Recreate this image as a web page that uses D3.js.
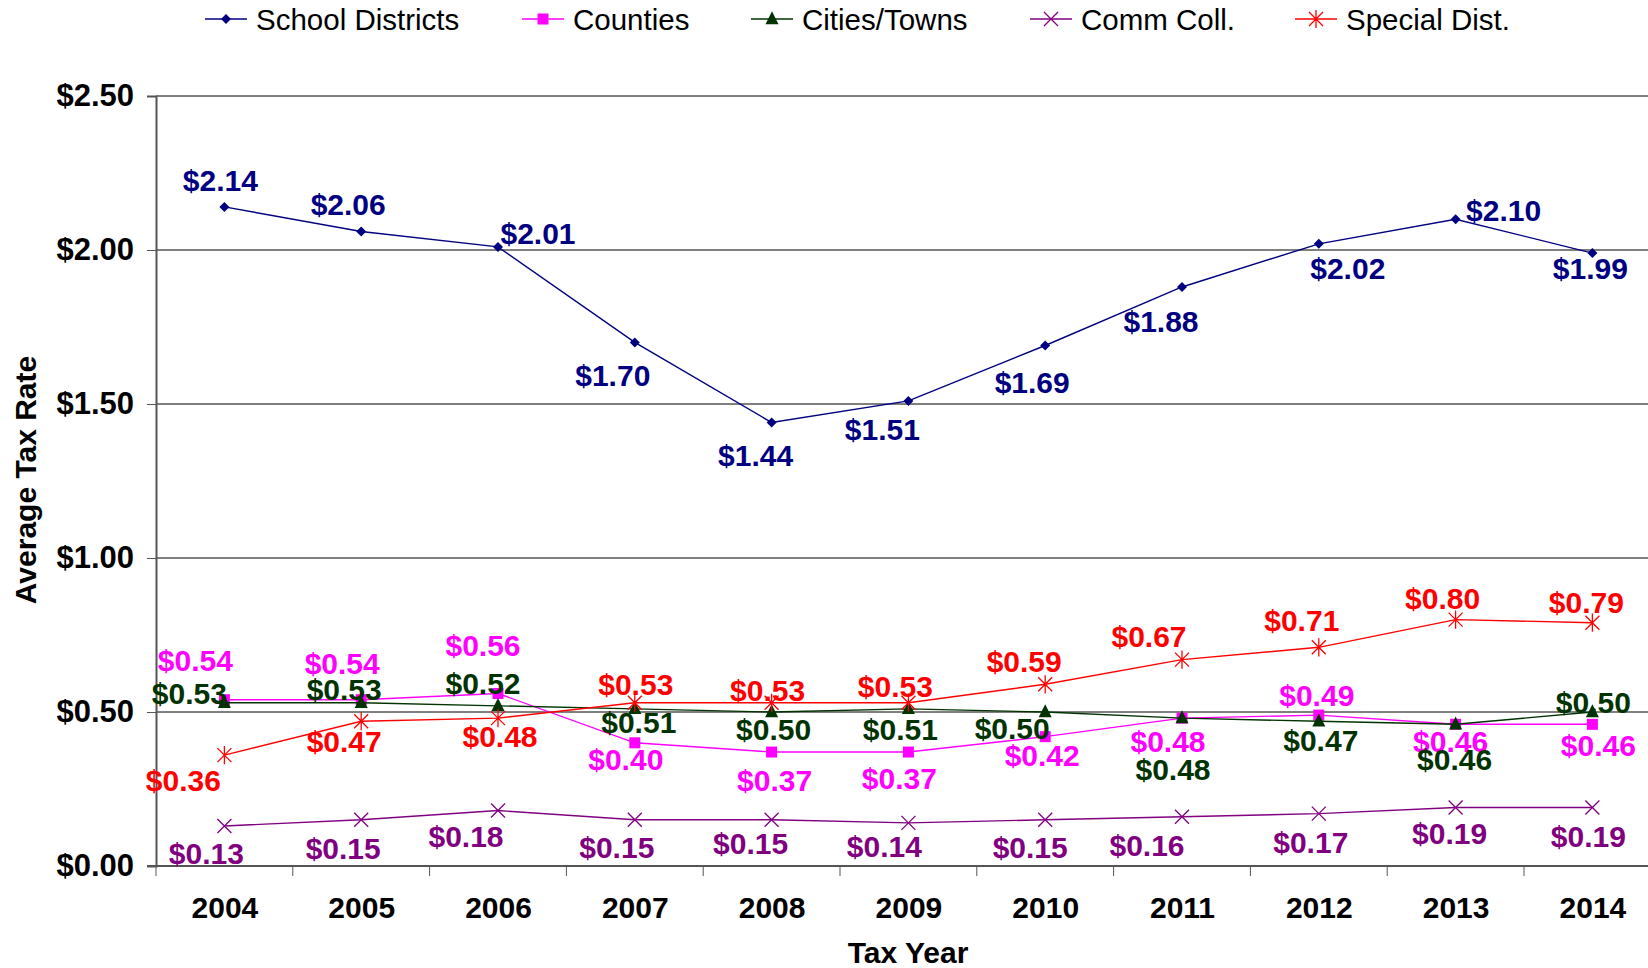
<!DOCTYPE html>
<html>
<head>
<meta charset="utf-8">
<script src="https://cdn.jsdelivr.net/npm/d3@7"></script>
<style>
  body { margin: 0; background: #fff; }
  svg { display: block; font-family: "Liberation Sans", Arial, sans-serif; }
</style>
</head>
<body>
<div id="chart"></div>
<script>
const years = ["2004","2005","2006","2007","2008","2009","2010","2011","2012","2013","2014"];
const yTicks = [0, 0.5, 1, 1.5, 2, 2.5];

const schoolDistricts = [2.14, 2.06, 2.01, 1.70, 1.44, 1.51, 1.69, 1.88, 2.02, 2.10, 1.99];
const counties       = [0.54, 0.54, 0.56, 0.40, 0.37, 0.37, 0.42, 0.48, 0.49, 0.46, 0.46];
const citiesTowns    = [0.53, 0.53, 0.52, 0.51, 0.50, 0.51, 0.50, 0.48, 0.47, 0.46, 0.50];
const commColl       = [0.13, 0.15, 0.18, 0.15, 0.15, 0.14, 0.15, 0.16, 0.17, 0.19, 0.19];
const specialDist    = [0.36, 0.47, 0.48, 0.53, 0.53, 0.53, 0.59, 0.67, 0.71, 0.80, 0.79];

// hand placed data labels (offset from the point, px)
const schoolLbl  = [[-4,-27],[-13,-27],[40,-14],[-22,33],[-16,33],[-26,28],[-13,37],[-21,34],[29,24],[48,-9],[-2,15]];
const countyLbl  = [[-29,-39],[-19,-36],[-15,-48],[-9,16],[3,28],[-9,26],[-3,19],[-14,23],[-2,-20],[-5,17],[6,21]];
const cityLbl    = [[-35,-10],[-17,-14],[-15,-23],[4,13],[2,17],[-8,20],[-33,16],[-9,51],[2,19],[-1,35],[1,-10]];
const commLbl    = [[-18,27],[-18,28],[-32,26],[-18,27],[-21,23],[-24,23],[-15,27],[-35,28],[-8,29],[-6,26],[-4,29]];
const specialLbl = [[-41,25],[-17,20],[2,18],[1,-19],[-4,-13],[-13,-17],[-21,-23],[-33,-23],[-17,-27],[-13,-21],[-6,-20]];

const series = [
  {name: "School Districts", values: schoolDistricts, lbl: schoolLbl,  color: "#000080", marker: "diamond"},
  {name: "Counties",         values: counties,        lbl: countyLbl,  color: "#ff00ff", marker: "square"},
  {name: "Cities/Towns",     values: citiesTowns,     lbl: cityLbl,    color: "#003300", marker: "triangle"},
  {name: "Comm Coll.",       values: commColl,        lbl: commLbl,    color: "#800080", marker: "cross"},
  {name: "Special Dist.",    values: specialDist,     lbl: specialLbl, color: "#ff0000", marker: "star"}
];

const WIDTH = 1648, HEIGHT = 968;
const plotLeft = 156, plotTop = 96, plotBottom = 866, step = 136.8;

const svg = d3.select("#chart").append("svg")
    .attr("width", WIDTH)
    .attr("height", HEIGHT);

const x = d3.scalePoint().domain(years).range([plotLeft, plotLeft + step * 11]).padding(0.5);
const xBand = d3.scaleBand().domain(years).range([plotLeft, plotLeft + step * 11]);
const y = d3.scaleLinear().domain([0, 2.5]).range([plotBottom, plotTop]);

// gridlines
svg.append("g").selectAll("line")
    .data(yTicks.filter(d => d > 0))
    .join("line")
    .attr("x1", plotLeft).attr("x2", WIDTH)
    .attr("y1", d => y(d)).attr("y2", d => y(d))
    .attr("stroke", "#000").attr("stroke-width", 1);

// y axis
const yAxis = svg.append("g")
    .attr("transform", "translate(" + plotLeft + ",0)")
    .call(d3.axisLeft(y).tickValues(yTicks).tickSize(9).tickPadding(13)
        .tickFormat(d => "$" + d.toFixed(2)));
yAxis.select(".domain").attr("stroke", "#555").attr("stroke-width", 2);
yAxis.selectAll(".tick line").attr("stroke", "#555");
yAxis.selectAll("text")
    .attr("fill", "#000").attr("font-size", 31).attr("font-weight", "bold")
    .attr("font-family", "Liberation Sans, Arial, sans-serif");

// x axis
const xAxis = svg.append("g")
    .attr("transform", "translate(0," + plotBottom + ")")
    .call(d3.axisBottom(x).tickSize(0).tickPadding(31));
xAxis.select(".domain").remove();
xAxis.append("line")
    .attr("x1", plotLeft - 9).attr("x2", WIDTH)
    .attr("stroke", "#555").attr("stroke-width", 2);
xAxis.selectAll(".tick text")
    .attr("fill", "#000").attr("font-size", 30).attr("font-weight", "bold")
    .attr("font-family", "Liberation Sans, Arial, sans-serif");
xAxis.selectAll(".sep")
    .data(years)
    .join("line")
    .attr("class", "sep")
    .attr("x1", d => xBand(d)).attr("x2", d => xBand(d))
    .attr("y1", 0).attr("y2", 10)
    .attr("stroke", "#555");

// axis titles
svg.append("text")
    .attr("transform", "translate(36," + ((plotTop + plotBottom) / 2 - 1) + ") rotate(-90)")
    .attr("text-anchor", "middle")
    .attr("font-size", 30).attr("font-weight", "bold")
    .text("Average Tax Rate");

svg.append("text")
    .attr("x", 908).attr("y", 963)
    .attr("text-anchor", "middle")
    .attr("font-size", 30).attr("font-weight", "bold")
    .text("Tax Year");

function drawMarker(g, type, color, s) {
  if (type === "diamond") {
    g.append("path").attr("d", `M0,${-s}L${s},0L0,${s}L${-s},0Z`).attr("fill", color);
  } else if (type === "square") {
    g.append("rect").attr("x", -s).attr("y", -s).attr("width", 2 * s).attr("height", 2 * s).attr("fill", color);
  } else if (type === "triangle") {
    g.append("path").attr("d", `M0,${-s * 1.2}L${s},${s * 0.8}L${-s},${s * 0.8}Z`).attr("fill", color);
  } else if (type === "cross") {
    g.append("path").attr("d", `M${-s},${-s}L${s},${s}M${-s},${s}L${s},${-s}`)
        .attr("stroke", color).attr("stroke-width", 1.3).attr("fill", "none");
  } else if (type === "star") {
    g.append("path").attr("d", `M${-s},${-s}L${s},${s}M${-s},${s}L${s},${-s}M0,${-s * 1.3}L0,${s * 1.3}`)
        .attr("stroke", color).attr("stroke-width", 1.3).attr("fill", "none");
  }
}

const markerSize = {diamond: 5, square: 5.5, triangle: 6.5, cross: 7, star: 7};

const line = d3.line()
    .x((d, i) => x(years[i]))
    .y(d => y(d));

series.forEach(s => {
  const g = svg.append("g");
  g.append("path")
      .datum(s.values)
      .attr("d", line)
      .attr("fill", "none")
      .attr("stroke", s.color)
      .attr("stroke-width", 1.4);

  s.values.forEach((v, i) => {
    const m = g.append("g").attr("transform", "translate(" + x(years[i]) + "," + y(v) + ")");
    drawMarker(m, s.marker, s.color, markerSize[s.marker]);
  });
});

// labels on top of all lines
series.forEach(s => {
  svg.append("g").selectAll("text")
      .data(s.values)
      .join("text")
      .attr("x", (d, i) => x(years[i]) + s.lbl[i][0])
      .attr("y", (d, i) => y(d) + s.lbl[i][1])
      .attr("dy", "0.36em")
      .attr("text-anchor", "middle")
      .attr("font-size", 30).attr("font-weight", "bold")
      .attr("fill", s.color)
      .text(d => "$" + d.toFixed(2));
});

// legend
const legendX = [205, 522, 751, 1030, 1295];
const legend = svg.append("g");
series.forEach((s, i) => {
  const lg = legend.append("g").attr("transform", "translate(" + legendX[i] + ",19)");
  lg.append("line").attr("x1", 0).attr("x2", 42).attr("stroke", s.color).attr("stroke-width", 1.6);
  drawMarker(lg.append("g").attr("transform", "translate(21,0)"), s.marker, s.color, markerSize[s.marker]);
  lg.append("text")
      .attr("x", 51).attr("dy", "0.36em")
      .attr("font-size", 29.5)
      .attr("fill", "#000")
      .text(s.name);
});
</script>
</body>
</html>
